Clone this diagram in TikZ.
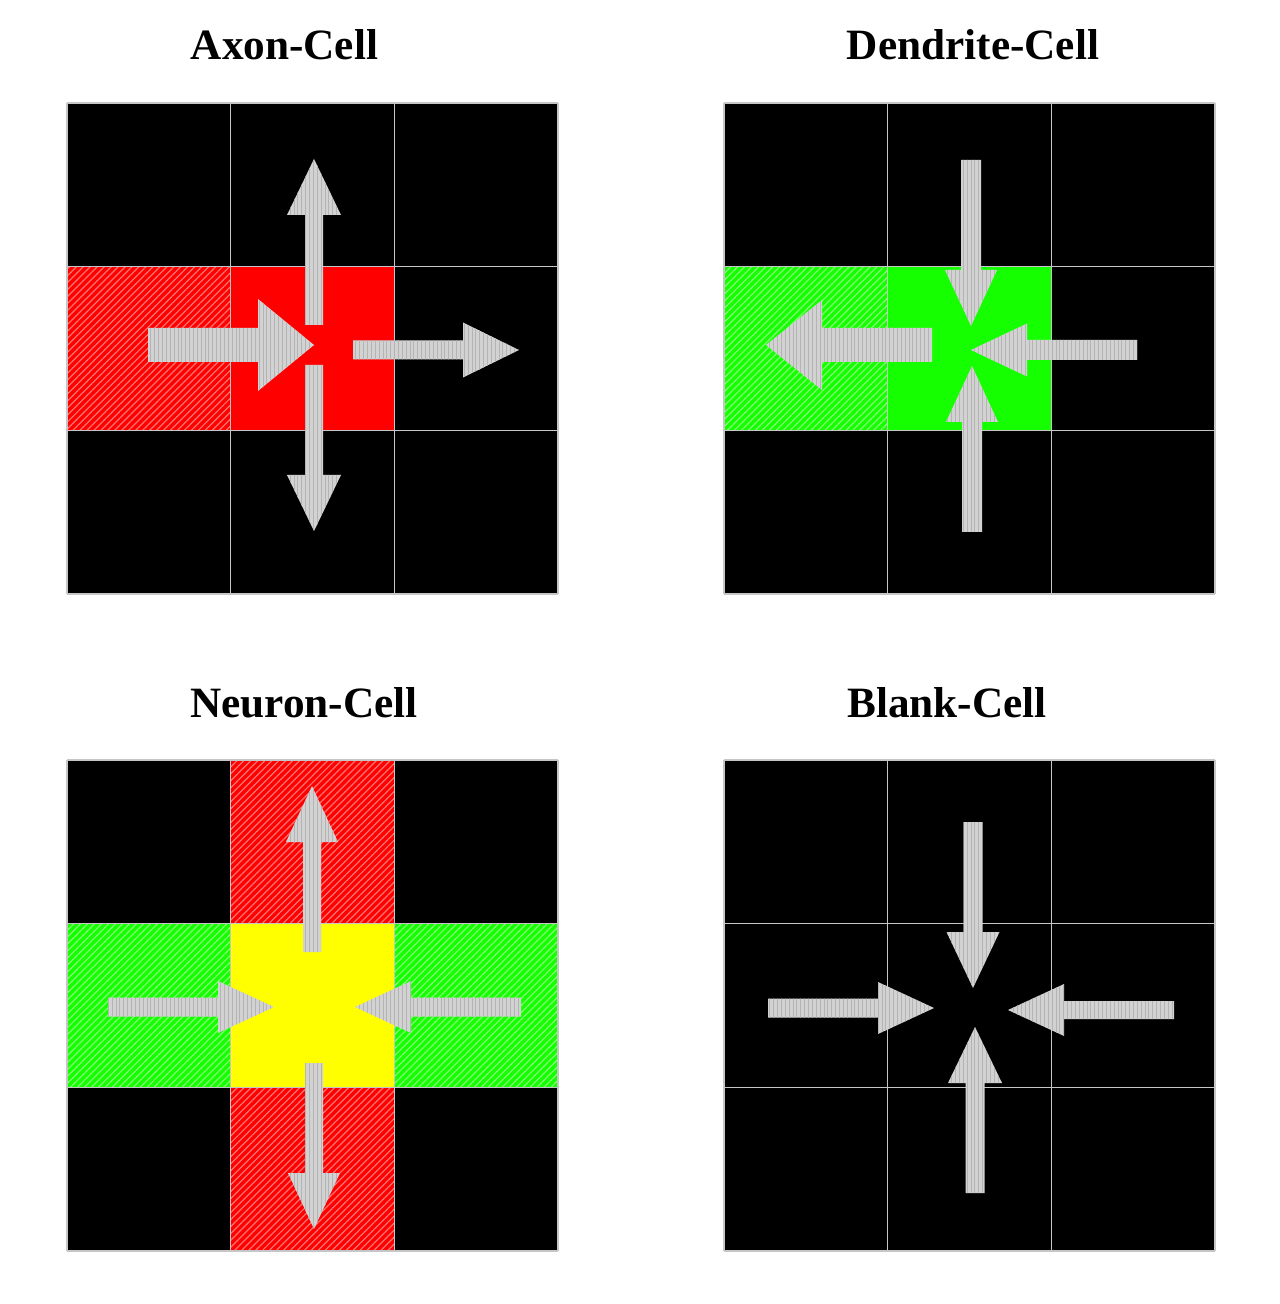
\documentclass[tikz,border=0pt]{standalone}
\usepackage{fontspec}
\setmainfont{Liberation Serif}
\usetikzlibrary{patterns.meta}

\definecolor{cellred}{RGB}{255,0,0}
\definecolor{cellgreen}{RGB}{22,255,0}
\definecolor{cellyellow}{RGB}{255,255,0}
\definecolor{arrowgray}{RGB}{210,210,210}
\definecolor{arrowline}{RGB}{180,180,180}

\tikzset{
  title/.style={font=\fontsize{12.3}{14}\selectfont\bfseries, anchor=base, inner sep=0pt},
  gridline/.style={draw=gray!45, line width=0.45pt},
  hatchred/.style={preaction={fill=cellred}, pattern={Lines[angle=45,distance=1.4pt,line width=0.35pt]}, pattern color=cellred!55!white},
  hatchgreen/.style={preaction={fill=cellgreen}, pattern={Lines[angle=45,distance=1.4pt,line width=0.35pt]}, pattern color=cellgreen!55!white},
  arrowbody/.style={preaction={fill=arrowgray}, pattern={Lines[angle=90,distance=1.1pt,line width=0.25pt]}, pattern color=arrowline}
}

% block arrow: tail x, tail y, angle, half shaft, half head
\newcommand{\garrow}[5]{%
  \begin{scope}[shift={(#1,#2)},rotate=#3]
    \fill[arrowbody] (0,#4) -- (110,#4) -- (110,#5) -- (166,0) -- (110,-#5) -- (110,-#4) -- (0,-#4) -- cycle;
  \end{scope}}

\begin{document}
\begin{tikzpicture}[x=0.01cm,y=-0.01cm]
\useasboundingbox (0,0) rectangle (1280,1304);

% titles
\node[title] (axonT) at (284.5,60) {Axon-Cell};
\node[title] (dendT) at (973,60) {Dendrite-Cell};
\node[title] (neurT) at (304,717) {Neuron-Cell};
\node[title] (blankT) at (947,717) {Blank-Cell};

% black grids
\foreach \gx/\gy in {67/103,724/103,67/760,724/760}
  \fill[black] (\gx,\gy) rectangle ++(491,491);

% axon
\path[hatchred] (67,266.7) rectangle (230.7,430.3);
\fill[cellred] (230.7,266.7) rectangle (394.3,430.3);
% dendrite
\path[hatchgreen] (724,266.7) rectangle (887.7,430.3);
\fill[cellgreen] (887.7,266.7) rectangle (1051.3,430.3);
% neuron
\path[hatchred] (230.7,760) rectangle (394.3,923.7);
\path[hatchred] (230.7,1087.3) rectangle (394.3,1251);
\path[hatchgreen] (67,923.7) rectangle (230.7,1087.3);
\path[hatchgreen] (394.3,923.7) rectangle (558,1087.3);
\fill[cellyellow] (230.7,923.7) rectangle (394.3,1087.3);

% grid lines
\foreach \gx/\gy in {67/103,724/103,67/760,724/760}
  \foreach \i in {0,...,3}{
    \draw[gridline] (\gx+163.67*\i,\gy) -- ++(0,491);
    \draw[gridline] (\gx,\gy+163.67*\i) -- ++(491,0);
  }

% axon arrows
\garrow{314}{325}{90}{9}{27}
\garrow{148}{345}{0}{17}{46}
\garrow{353}{350}{0}{9.5}{27.5}
\garrow{314}{365}{-90}{9}{27}
% dendrite arrows
\garrow{971}{160}{-90}{10}{26}
\garrow{932}{345}{180}{17}{45}
\garrow{1137}{350}{180}{10}{26.5}
\garrow{972}{532}{90}{10}{26}
% neuron arrows
\garrow{312}{952}{90}{9}{26}
\garrow{108}{1007}{0}{9.5}{26}
\garrow{521}{1007}{180}{9.5}{26}
\garrow{314}{1063}{-90}{9}{26}
% blank arrows
\garrow{973}{822}{-90}{9.5}{26.5}
\garrow{768}{1008}{0}{9.5}{26}
\garrow{1174}{1010}{180}{9}{26}
\garrow{975}{1193}{90}{9.5}{27}
\end{tikzpicture}
\end{document}
